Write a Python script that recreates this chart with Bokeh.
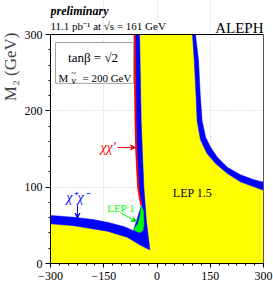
from bokeh.plotting import figure
from bokeh.models import (Range1d, FixedTicker, Label, Arrow, VeeHead, BoxAnnotation, Title,
                          LinearAxis, Span)
from bokeh.embed import file_html
from bokeh.resources import INLINE

# ---------------- data ----------------
# lower-left chargino band (chi+chi-) : white-side edge and yellow-side edge
chargino_outer_mu = [-300, -234, -180, -140, -94, -66]
chargino_outer_m2 = [63, 60.5, 57.5, 54, 48.5, 43]
chargino_inner_mu = [-20, -28, -46.5, -84, -140, -234, -300]
chargino_inner_m2 = [18, 19.5, 24, 34.5, 42.3, 49.4, 52]

# left "vertical" band: red (chi chi') edge from top down, and yellow-side edge from top down
neut_red_mu = [-63, -62, -60.5, -58, -53, -49, -44]
neut_red_m2 = [300, 250, 187, 144, 100, 88, 76]
neut_inner_mu = [-49, -47, -44.5, -41, -37, -30, -20]
neut_inner_m2 = [300, 250, 187, 144, 100, 56, 18]

# LEP 1 region (green)
lep1_mu = [-44, -38, -37, -40, -48, -58, -65.4, -54, -48.5]
lep1_m2 = [76, 68, 50, 43, 40.5, 42, 44.6, 52, 60.7]

# right band: yellow-side edge and white-side edge, from top to right
right_inner_mu = [100, 105, 110, 113, 122.5, 141, 165, 198, 235, 273, 300]
right_inner_m2 = [300, 266, 220, 187, 162, 144, 131, 118, 107, 100.4, 96]
right_outer_mu = [108.5, 117, 122, 127, 137, 151, 170, 198, 235, 273, 300]
right_outer_m2 = [300, 266, 220, 187, 165.5, 152.4, 139.3, 126.2, 116.3, 109.7, 106.6]

x_ticks = [-300, -150, 0, 150, 300]
y_ticks = [0, 100, 200, 300]
X_MIN, X_MAX, Y_MIN, Y_MAX = -300, 300, 0, 300

# ---------------- figure ----------------
SERIF = "Liberation Serif"
YELLOW, BLUE, RED, GREEN = "#ffff00", "#0000ff", "#ff0000", "#00ff00"

# frame reaches the top of the canvas so that the header texts can live inside it;
# the plotted box itself ends at M2 = 300 (top rule drawn with a Span).
FRAME_H, BOX_H = 263, 229
Y_TOP = Y_MAX * FRAME_H / BOX_H

p = figure(width=273, height=283, output_backend="svg", toolbar_location=None,
           x_range=Range1d(X_MIN, X_MAX), y_range=Range1d(Y_MIN, Y_TOP),
           min_border_left=50, min_border_right=10, min_border_top=0, min_border_bottom=20)
p.title.visible = False
p.outline_line_color = None
p.background_fill_color = "white"

for ax in (p.xaxis[0], p.yaxis[0]):
    ax.axis_line_color = "black"
    ax.major_tick_line_color = "black"
    ax.minor_tick_line_color = "black"
    ax.major_label_text_font = SERIF
    ax.major_label_text_font_size = "12px"
    ax.major_label_text_color = "black"
    ax.axis_label = None

p.xaxis.ticker = FixedTicker(ticks=x_ticks, minor_ticks=list(range(-300, 301, 25)))
p.yaxis.ticker = FixedTicker(ticks=y_ticks, minor_ticks=list(range(0, 301, 20)))
p.yaxis.bounds = (Y_MIN, Y_MAX)
p.xaxis.major_tick_out = 4
p.xaxis.major_tick_in = 0
p.xaxis.minor_tick_out = 2
p.xaxis.minor_tick_in = 0
p.xaxis.major_label_standoff = 4
p.yaxis.major_tick_out = 5
p.yaxis.major_tick_in = 0
p.yaxis.minor_tick_out = 2
p.yaxis.minor_tick_in = 0
p.yaxis.major_label_standoff = 3

# right frame edge (axis line only) and top frame edge
right_ax = LinearAxis(ticker=FixedTicker(ticks=[]), bounds=(Y_MIN, Y_MAX),
                      axis_line_color="#555555", major_tick_out=0, major_tick_in=0,
                      minor_tick_out=0, minor_tick_in=0, major_label_text_font_size="0px",
                      major_label_standoff=0)
p.add_layout(right_ax, "right")
p.add_layout(Span(location=Y_MAX, dimension="width", line_color="black", line_width=1))

p.xgrid.ticker = FixedTicker(ticks=[-150, 0, 150])
p.ygrid.ticker = FixedTicker(ticks=[100, 200])
p.xgrid.bounds = (Y_MIN, Y_MAX)
for g in (p.xgrid[0], p.ygrid[0]):
    g.grid_line_color = "#c8c8c8"
    g.grid_line_dash = "1 2"
    g.grid_line_width = 1

# y axis title, at the top end of the axis
p.add_layout(Title(text="M₂ (GeV)", align="right", offset=32, vertical_align="top",
                   text_font=SERIF, text_font_size="17px", text_font_style="normal",
                   standoff=0), "left")

# ---------------- regions ----------------
ri_mu = list(reversed(right_inner_mu))
ri_m2 = list(reversed(right_inner_m2))
yellow_mu = [X_MIN, X_MAX] + ri_mu + neut_inner_mu + chargino_inner_mu[1:]
yellow_m2 = [Y_MIN, Y_MIN] + ri_m2 + neut_inner_m2 + chargino_inner_m2[1:]
p.patch(yellow_mu, yellow_m2, fill_color=YELLOW, line_color=YELLOW, line_width=0.5)

left_blue_mu = (chargino_outer_mu + list(reversed(lep1_mu[6:])) + [lep1_mu[0]]
                + list(reversed(neut_red_mu)) + neut_inner_mu + chargino_inner_mu[1:])
left_blue_m2 = (chargino_outer_m2 + list(reversed(lep1_m2[6:])) + [lep1_m2[0]]
                + list(reversed(neut_red_m2)) + neut_inner_m2 + chargino_inner_m2[1:])
p.patch(left_blue_mu, left_blue_m2, fill_color=BLUE, line_color=BLUE, line_width=0.5)

right_blue_mu = right_outer_mu + ri_mu
right_blue_m2 = right_outer_m2 + ri_m2
p.patch(right_blue_mu, right_blue_m2, fill_color=BLUE, line_color=BLUE, line_width=0.5)

p.patch(lep1_mu, lep1_m2, fill_color=GREEN, line_color=GREEN, line_width=0.5)
p.line(neut_red_mu, neut_red_m2, line_color=RED, line_width=2)

# ---------------- annotations ----------------
p.add_layout(BoxAnnotation(left=-286, right=-66, bottom=236, top=289.5,
                           fill_color="white", fill_alpha=1.0,
                           line_color="#a0a0a0", line_width=1, line_alpha=1.0))

def lab(x, y, text, size, color="black", align="left", baseline="alphabetic",
        style="normal"):
    p.add_layout(Label(x=x, y=y, text=text, text_font=SERIF, text_font_size=size,
                       text_color=color, text_align=align, text_baseline=baseline,
                       text_font_style=style))

lab(-180, 270, "tanβ = √2", "13px", align="center")
lab(-277.5, 242.4, "M", "11px")
lab(-240.5, 239.7, "ν", "10px")
lab(-234, 249, "~", "9px", align="center", baseline="middle")
lab(-210, 242.4, "= 200 GeV", "11px")

# header
lab(-300, 330.8, "preliminary", "12px", style="bold italic")
lab(-300, 310.5, "11.1 pb⁻¹ at √s = 161 GeV", "11px")
lab(300, 308.8, "ALEPH", "15px", align="right")

lab(-116, 152, "χχ′", "14px", color=RED, align="right", baseline="middle", style="italic")
lab(-224, 86.5, "χ⁺χ⁻", "14px", color=BLUE, align="center", baseline="middle", style="italic")
lab(-101, 72.7, "LEP 1", "11px", color=GREEN, align="center", baseline="middle")
lab(100, 93, "LEP 1.5", "12px", align="center", baseline="middle")

p.add_layout(Arrow(x_start=-111, y_start=152, x_end=-61, y_end=152, line_color=RED,
                   line_width=1, end=VeeHead(size=5, line_color=RED, line_width=1)))
p.add_layout(Arrow(x_start=-224, y_start=76, x_end=-224, y_end=59.5, line_color=BLUE,
                   line_width=1, end=VeeHead(size=5, line_color=BLUE, line_width=1)))
p.add_layout(Arrow(x_start=-103, y_start=66.5, x_end=-58, y_end=55, line_color=GREEN,
                   line_width=1, end=VeeHead(size=5, line_color=GREEN, line_width=1)))

open("out.html", "w").write(file_html(p, INLINE))
